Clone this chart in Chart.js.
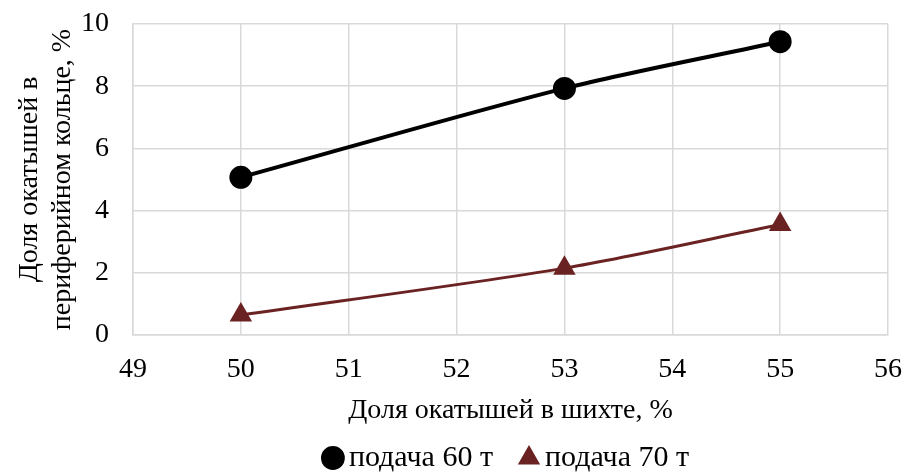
<!DOCTYPE html>
<html>
<head>
<meta charset="utf-8">
<script src="https://cdn.jsdelivr.net/npm/chart.js@4/dist/chart.umd.min.js"></script>
<style>
  html, body { margin: 0; padding: 0; background: #fff; }
  #wrap { width: 904px; height: 473px; }
</style>
</head>
<body>
<div id="wrap"><canvas id="c" width="904" height="473"></canvas></div>
<script>
// Доля окатышей в шихте, %
const shareInCharge = [50, 53, 55];
// Доля окатышей в периферийном кольце, %
const feed60 = [5.07, 7.93, 9.43];
const feed70 = [0.64, 2.15, 3.55];
const seriesNames = ['подача 60 т', 'подача 70 т'];
const xTitle = 'Доля окатышей в шихте, %';
const yTitle = ['Доля окатышей в', 'периферийном кольце, %'];

const toPoints = (xs, ys) => xs.map((x, i) => ({ x: x, y: ys[i] }));

const FONT = "'Liberation Serif', 'Times New Roman', serif";
const GRID = '#d9d9d9';
const LEGEND_GAP = 35;

new Chart(document.getElementById('c'), {
  type: 'line',
  data: {
    datasets: [
      {
        label: seriesNames[0],
        data: toPoints(shareInCharge, feed60),
        borderColor: '#000000',
        backgroundColor: '#000000',
        borderWidth: 4,
        pointStyle: 'circle',
        pointRadius: 9.5,
        pointHoverRadius: 9.5,
        tension: 0.3,
        fill: false
      },
      {
        label: seriesNames[1],
        data: toPoints(shareInCharge, feed70),
        borderColor: '#6b2222',
        backgroundColor: '#6b2222',
        borderWidth: 3,
        pointStyle: 'triangle',
        pointRadius: 10,
        pointHoverRadius: 10,
        tension: 0.3,
        fill: false
      }
    ]
  },
  options: {
    responsive: false,
    animation: false,
    layout: { padding: { left: 0, right: 16, top: 24, bottom: 0 } },
    plugins: {
      legend: {
        position: 'bottom',
        fullSize: false,
        maxHeight: 65,
        labels: {
          usePointStyle: true,
          boxWidth: 2,
          boxHeight: 14,
          padding: LEGEND_GAP,
          color: '#000',
          font: { family: FONT, size: 30 }
        }
      },
      tooltip: { enabled: false }
    },
    scales: {
      x: {
        type: 'linear',
        min: 49,
        max: 56,
        ticks: { stepSize: 1, color: '#000', font: { family: FONT, size: 28 }, padding: 18 },
        grid: { color: GRID, lineWidth: 1.5, drawTicks: false },
        border: { color: GRID, width: 1.5 },
        title: { display: true, text: xTitle, color: '#000', font: { family: FONT, size: 28 }, padding: { top: 6, bottom: -19 } },
        afterFit: (scale) => {
          scale.height = 73;
          scale.paddingLeft = 0;
          scale.paddingRight = 0;
        }
      },
      y: {
        min: 0,
        max: 10,
        ticks: { stepSize: 2, color: '#000', font: { family: FONT, size: 28 }, padding: 24 },
        grid: { color: GRID, lineWidth: 1.5, drawTicks: false },
        border: { color: GRID, width: 1.5 },
        title: { display: true, text: yTitle, color: '#000', font: { family: FONT, size: 28, lineHeight: 1.15 }, padding: { top: 14, bottom: 4 } },
        afterFit: (scale) => {
          scale.width = 133;
          scale.paddingTop = 0;
          scale.paddingBottom = 0;
        }
      }
    }
  }
});
</script>
</body>
</html>
